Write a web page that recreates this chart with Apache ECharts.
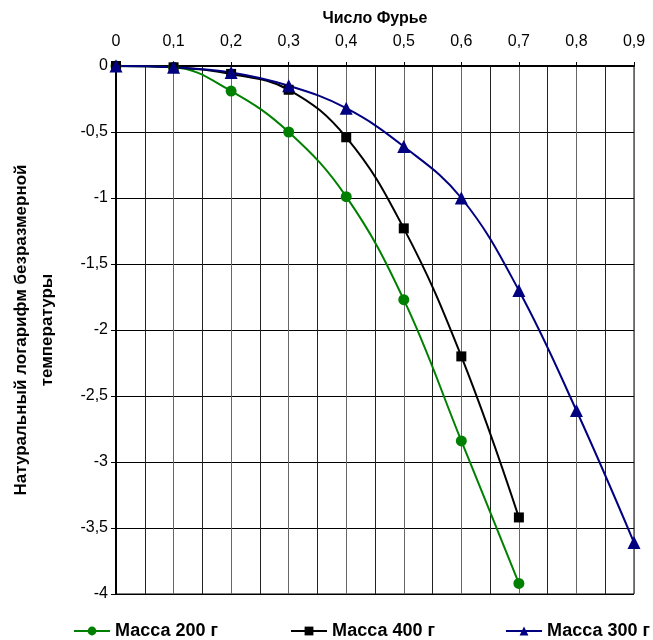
<!DOCTYPE html>
<html>
<head>
    <meta charset="utf-8">
    <title>Число Фурье</title>
    <script src="https://cdn.jsdelivr.net/npm/echarts@6/dist/echarts.min.js"></script>
</head>
<body style="margin:0">
    <div id="main" style="width: 653px;height:640px;"></div>
<script type="text/javascript">
// данные графика
var fourier = [0, 0.1, 0.2, 0.3, 0.4, 0.5, 0.6, 0.7, 0.8, 0.9];
var mass200 = [0, -0.01, -0.19, -0.50, -0.99, -1.77, -2.84, -3.92];
var mass400 = [0, -0.01, -0.06, -0.18, -0.54, -1.23, -2.20, -3.42];
var mass300 = [0, -0.01, -0.05, -0.15, -0.32, -0.61, -1.00, -1.70, -2.61, -3.61];
var seriesNames = ['Масса 200 г', 'Масса 400 г', 'Масса 300 г'];

function pairs(ys) {
    var out = [];
    for (var i = 0; i < ys.length; i++) out.push([fourier[i], ys[i]]);
    return out;
}
function comma(v) {
    return String(Math.round(v * 100) / 100).replace('.', ',');
}

var myChart = echarts.init(document.getElementById('main'));
var font = 'Liberation Sans, Arial, sans-serif';

var option = {
    animation: false,
    textStyle: { fontFamily: font },
    grid: {
        left: 115, right: 19, top: 66, bottom: 46,
        show: true, borderColor: '#000', borderWidth: 1
    },
    xAxis: {
        type: 'value',
        position: 'top',
        min: 0, max: 0.9, interval: 0.1,
        name: 'Число Фурье',
        nameLocation: 'middle',
        nameGap: 39,
        nameTextStyle: { fontSize: 16, fontWeight: 'bold', color: '#000' },
        axisLine: { lineStyle: { color: '#000', width: 2 } },
        axisTick: { show: true, length: 4, lineStyle: { color: '#000' } },
        axisLabel: { color: '#000', fontSize: 16, margin: 16, formatter: comma },
        splitLine: { show: true, lineStyle: { color: '#666', width: 1 } },
        minorTick: { show: false, splitNumber: 2 },
        minorSplitLine: { show: true, lineStyle: { color: '#222', width: 1 } }
    },
    yAxis: {
        type: 'value',
        min: -4, max: 0, interval: 0.5,
        name: 'Натуральный логарифм безразмерной\nтемпературы',
        nameLocation: 'middle',
        nameGap: 56,
        nameTextStyle: { fontSize: 17, fontWeight: 'bold', color: '#000', lineHeight: 26 },
        axisLine: { show: true, onZero: false, lineStyle: { color: '#000', width: 2 } },
        axisTick: { show: true, length: 5, lineStyle: { color: '#000' } },
        axisLabel: { color: '#000', fontSize: 16, margin: 8, formatter: comma },
        splitLine: { show: true, lineStyle: { color: '#000', width: 1 } }
    },
    legend: [
        { data: [seriesNames[0]], left: 68 },
        { data: [seriesNames[1]], left: 285 },
        { data: [seriesNames[2]], left: 500 }
    ].map(function (l) {
        l.top = 617;
        l.itemWidth = 36; l.itemHeight = 11; l.itemGap = 0;
        l.textStyle = { fontSize: 18, fontWeight: 'bold', color: '#000', fontFamily: font };
        return l;
    }),
    series: [
        {
            name: seriesNames[0], type: 'line', smooth: 0.4,
            symbol: 'circle', symbolSize: 11,
            color: '#008000', lineStyle: { width: 2 },
            data: pairs(mass200)
        },
        {
            name: seriesNames[1], type: 'line', smooth: 0.4,
            symbol: 'rect', symbolSize: 10,
            color: '#000000', lineStyle: { width: 2 },
            data: pairs(mass400)
        },
        {
            name: seriesNames[2], type: 'line', smooth: 0.4,
            symbol: 'triangle', symbolSize: 13,
            color: '#000080', lineStyle: { width: 2 },
            data: pairs(mass300)
        }
    ]
};

myChart.setOption(option);
</script>
</body>
</html>
